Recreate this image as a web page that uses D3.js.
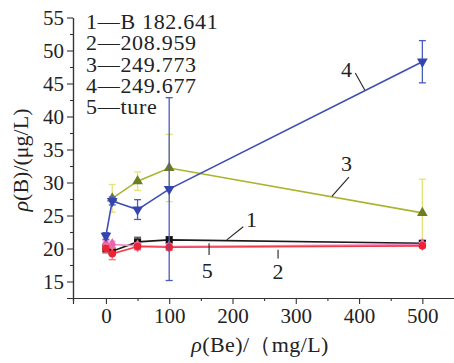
<!DOCTYPE html>
<html lang="en">
<head>
    <meta charset="UTF-8">
    <title>rho(B) vs rho(Be)</title>
    <script src="https://d3js.org/d3.v7.min.js"></script>
    <style>
        html, body {
            margin: 0;
            padding: 0;
            background: #fff;
            overflow: hidden;
        }
    </style>
</head>
<body>
    <svg id="chart" width="454" height="363"></svg>

    <script>
        // data
        const xs = [0, 10, 50, 100, 500];
        const xs3 = [10, 50, 100, 500];

        const s1 = [20.0, 19.6, 21.0, 21.3, 20.8];
        const e1 = [0.6, 0.5, 0.7, 0.5, 0.3];
        const s2 = [20.0, 19.2, 20.3, 20.2, 20.4];
        const e2 = [0.7, 0.9, 0.5, 0.5, 0.3];
        const s3 = [27.6, 30.2, 32.2, 25.4];
        const e3 = [2.1, 1.4, 5.1, 5.1];
        const s4 = [21.9, 27.2, 25.9, 29.0, 48.3];
        const e4 = [0.5, 0.6, 1.5, 13.85, 3.2];
        const s5 = [20.7, 20.6, 20.4, 20.3, 20.6];
        const e5 = [0.5, 0.5, 0.4, 0.4, 0.3];

        const legendLines = ["1\u2014B 182.641", "2\u2014208.959", "3\u2014249.773", "4\u2014249.677", "5\u2014ture"];
        const xTicks = [0, 100, 200, 300, 400, 500];
        const yTicks = [15, 20, 25, 30, 35, 40, 45, 50, 55];

        // line labels: [text, textX, textY, fromX, fromY, toX, toY] in data units
        const callouts = [
            ["1", 230, 24.4, 217, 23.3, 191, 21.3],
            ["5", 160, 16.6, 163, 20.8, 163, 19.0],
            ["2", 272, 16.5, 272, 19.8, 272, 18.5],
            ["3", 380, 32.9, 384, 30.8, 357, 27.9],
            ["4", 380, 47.1, 394, 46.6, 409, 44.0]
        ];

        const FONT = "Liberation Serif";

        const svg = d3.select("#chart");

        const x = d3.scaleLinear().domain([-52, 550]).range([73, 454]);
        const y = d3.scaleLinear().domain([12.5, 55]).range([298, 17.5]);

        // axes
        svg.append("g")
            .attr("transform", `translate(0,${y(12.5)})`)
            .call(d3.axisBottom(x).tickValues(xTicks).tickSize(6).tickPadding(4).tickFormat(d3.format("d")));
        svg.append("g")
            .attr("transform", `translate(0,${y(12.5)})`)
            .call(d3.axisBottom(x).tickValues([50, 150, 250, 350, 450]).tickSize(3).tickFormat(""));

        svg.append("g")
            .attr("transform", `translate(${x(-52)},0)`)
            .call(d3.axisLeft(y).tickValues(yTicks).tickSize(6).tickPadding(3));
        svg.append("g")
            .attr("transform", `translate(${x(-52)},0)`)
            .call(d3.axisLeft(y).tickValues([17.5, 22.5, 27.5, 32.5, 37.5, 42.5, 47.5, 52.5]).tickSize(3).tickFormat(""));

        svg.selectAll(".domain").attr("stroke", "#333").attr("stroke-width", 1.2);
        svg.selectAll(".tick line").attr("stroke", "#333").attr("stroke-width", 1.1);
        svg.selectAll(".tick text")
            .style("font-family", FONT)
            .style("font-size", "21px")
            .attr("fill", "#222");
        // drop the outer end ticks of the domain path
        svg.selectAll(".domain").attr("d", function() {
            return d3.select(this).attr("d").replace(/V6|V3|H-6|H-3/g, "");
        });

        // series
        const series = [
            { xs: xs3, ys: s3, es: e3, line: "#aab52e", err: "#e3e37a", mark: "#6e7d24", shape: d3.symbolTriangle },
            { xs: xs, ys: s1, es: e1, line: "#1a1a1a", err: "#555", mark: "#111", shape: d3.symbolSquare },
            { xs: xs, ys: s5, es: e5, line: "#f28ac4", err: "#f5a0cf", mark: "#e865b0", shape: d3.symbolDiamond },
            { xs: xs, ys: s2, es: e2, line: "#f23a48", err: "#f37580", mark: "#ee2233", shape: d3.symbolCircle },
            { xs: xs, ys: s4, es: e4, line: "#3c4db8", err: "#4a5cc0", mark: "#3545b0", shape: d3.symbolTriangle, flip: true }
        ];

        const lineGen = d3.line().x(d => x(d[0])).y(d => y(d[1]));

        series.forEach(s => {
            const pts = s.xs.map((v, i) => [v, s.ys[i], s.es[i]]);
            const g = svg.append("g");

            g.append("path")
                .datum(pts)
                .attr("d", lineGen)
                .attr("fill", "none")
                .attr("stroke", s.line)
                .attr("stroke-width", 1.6);

            const eb = g.selectAll(".eb").data(pts).enter().append("g");
            eb.append("line")
                .attr("x1", d => x(d[0])).attr("x2", d => x(d[0]))
                .attr("y1", d => y(d[1] - d[2])).attr("y2", d => y(d[1] + d[2]))
                .attr("stroke", s.err).attr("stroke-width", 1.3);
            [-1, 1].forEach(sign => {
                eb.append("line")
                    .attr("x1", d => x(d[0]) - 3.5).attr("x2", d => x(d[0]) + 3.5)
                    .attr("y1", d => y(d[1] + sign * d[2])).attr("y2", d => y(d[1] + sign * d[2]))
                    .attr("stroke", s.err).attr("stroke-width", 1.3);
            });

            g.selectAll(".mk").data(pts).enter().append("path")
                .attr("d", d3.symbol().type(s.shape).size(s.shape === d3.symbolCircle ? 45 : 50))
                .attr("transform", d => `translate(${x(d[0])},${y(d[1])})${s.flip ? " rotate(180)" : ""}`)
                .attr("fill", s.mark);
        });

        // callouts
        callouts.forEach(c => {
            svg.append("line")
                .attr("x1", x(c[3])).attr("y1", y(c[4]))
                .attr("x2", x(c[5])).attr("y2", y(c[6]))
                .attr("stroke", "#222").attr("stroke-width", 1.1);
            svg.append("text")
                .attr("x", x(c[1])).attr("y", y(c[2]))
                .attr("text-anchor", "middle")
                .attr("dominant-baseline", "central")
                .style("font-family", FONT)
                .style("font-size", "22px")
                .attr("fill", "#222")
                .text(c[0]);
        });

        // legend text
        svg.append("g").selectAll("text").data(legendLines).enter().append("text")
            .attr("x", 86)
            .attr("y", (d, i) => 29 + i * 21.3)
            .style("font-family", FONT)
            .style("font-size", "22px")
            .style("letter-spacing", "0.7px")
            .attr("fill", "#222")
            .text(d => d);

        // axis titles
        const xt = svg.append("text")
            .attr("x", 260).attr("y", 352)
            .attr("text-anchor", "middle")
            .style("font-family", FONT)
            .style("font-size", "22px")
            .style("letter-spacing", "0.4px")
            .attr("fill", "#222");
        xt.append("tspan").style("font-style", "italic").text("\u03c1");
        xt.append("tspan").text("(Be)/\uff08mg/L)");

        const yt = svg.append("text")
            .attr("transform", "translate(28,160) rotate(-90)")
            .attr("text-anchor", "middle")
            .style("font-family", FONT)
            .style("font-size", "22px")
            .attr("fill", "#222");
        yt.append("tspan").style("font-style", "italic").text("\u03c1");
        yt.append("tspan").text("(B)/(\u03bcg/L)");
    </script>
</body>
</html>
